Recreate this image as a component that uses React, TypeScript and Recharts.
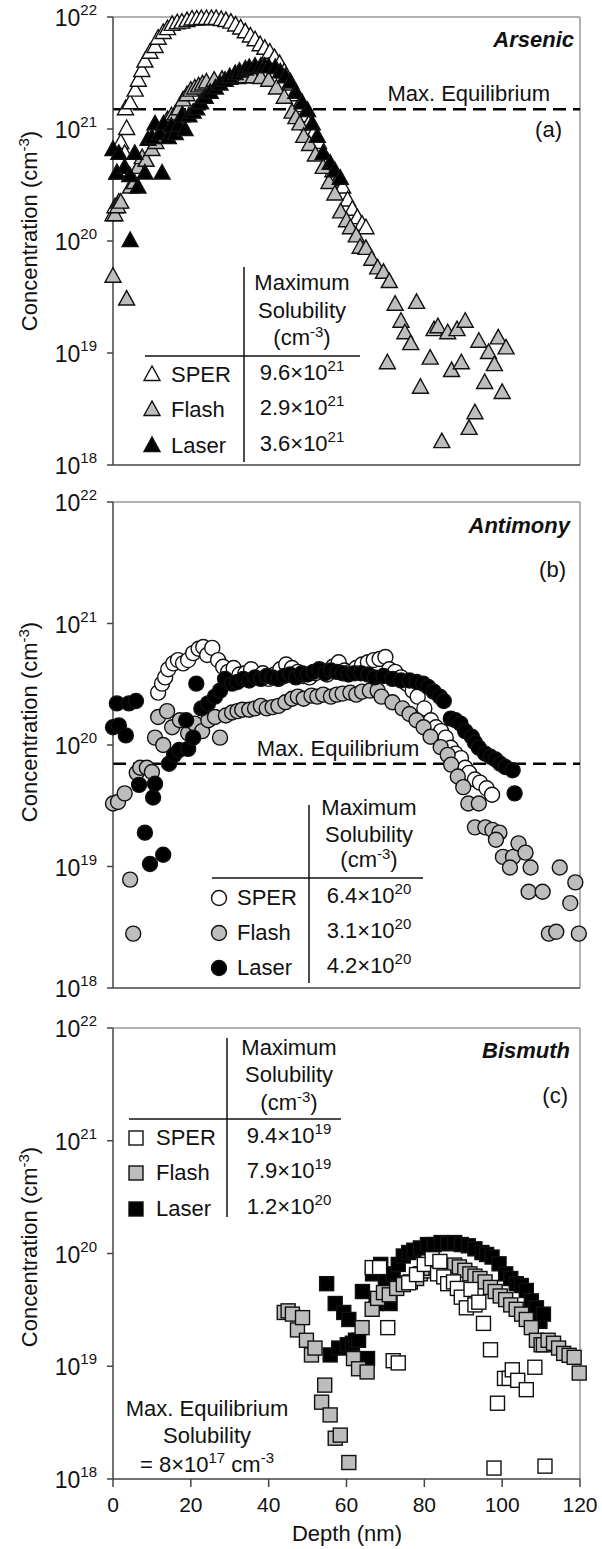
import React from "react";
import { ScatterChart, Scatter, XAxis, YAxis, ReferenceLine } from "recharts";

const FONT = "'Liberation Sans', Arial, Helvetica, sans-serif";

const DEPTH_TICKS = [0, 20, 40, 60, 80, 100, 120];
const CONC_TICKS = [1e18, 1e19, 1e20, 1e21, 1e22];
const SERIES_NAMES = ["SPER", "Flash", "Laser"];

// [depth (nm), concentration (cm-3)]
const AS_SPER = [
  [0, 1.7e20], [0.5, 2.0e20], [1, 4e20], [1.5, 2.2e20], [2, 7.5e20], [3, 6e20], [3.5, 1e21],
  [3.2, 1.5e21], [4.4, 1.7e21], [5.7, 2.2e21], [6.5, 2.7e21], [7.4, 3.3e21], [8.2, 4e21],
  [9.5, 4.8e21], [10.8, 5.4e21], [11.6, 6.4e21], [12.9, 7.2e21], [14, 7.8e21], [15.2, 8.5e21],
  [16.5, 8.8e21], [17.7, 8.9e21], [19, 9.2e21], [20.3, 9.5e21], [21.5, 9.5e21], [22.7, 9.6e21],
  [24, 9.6e21], [25.3, 9.6e21], [26.5, 9.6e21], [27.8, 9.4e21], [29, 9.2e21], [30.3, 8.9e21],
  [31.5, 8.4e21], [32.8, 7.9e21], [34, 7.3e21], [35.3, 6.7e21], [36.5, 6.2e21], [37.8, 5.6e21],
  [39, 5.2e21], [40.3, 4.8e21], [41.5, 4.3e21], [42.8, 3.8e21], [44, 3.2e21], [45.3, 2.5e21],
  [46.5, 2.0e21], [47.8, 1.6e21], [49, 1.3e21], [50.3, 1.1e21], [51.5, 9e20], [52.8, 7.5e20],
  [54, 6e20], [55.3, 5e20], [56.5, 4.2e20], [57.8, 3.5e20], [59, 3e20], [60.3, 2.3e20],
  [61.5, 1.9e20], [62.8, 1.6e20], [64, 1.4e20], [65, 1.3e20],
];
const AS_FLASH = [
  [0, 4.8e19], [0.5, 1.7e20], [1.2, 2.0e20], [2, 2.2e20], [3.5, 3.0e19], [4.5, 3.0e20],
  [5.5, 3.3e20], [6.5, 4.5e20], [7.5, 5.5e20], [8.5, 5.2e20], [10, 6.5e20], [11, 7.5e20],
  [12, 8.5e20], [13, 9e20], [14, 1.2e21], [15, 1.3e21], [16, 1.35e21], [17, 1.5e21],
  [18, 1.8e21], [19, 2.0e21], [20, 2.2e21], [21, 2.3e21], [22, 2.4e21], [23, 2.5e21],
  [24, 2.6e21], [26, 2.7e21], [28, 2.75e21], [30, 2.8e21], [32, 2.85e21], [34, 2.9e21],
  [36, 2.9e21], [38, 2.85e21], [40, 2.7e21], [42, 2.3e21], [44, 1.9e21], [46, 1.4e21],
  [47, 1.25e21], [48, 1.1e21], [49, 8.5e20], [50.5, 7.2e20], [52, 5.8e20], [54, 4.5e20],
  [55.5, 3.3e20], [57, 2.6e20], [58.5, 1.8e20], [60, 1.5e20], [61, 1.3e20], [62.5, 1.1e20],
  [63.5, 8.7e19], [65, 8.5e19], [66.5, 6.8e19], [68, 5.7e19], [69.5, 5.2e19], [71, 4.3e19],
  [72.5, 2.7e19], [74, 1.9e19], [75, 1.5e19], [76.5, 1.2e19], [78, 2.8e19], [70.5, 8.1e18],
  [79, 4.9e18], [81.5, 8.9e18], [82.5, 1.6e19], [83.5, 1.7e19], [84.5, 1.6e18], [86, 1.5e19],
  [87, 6.9e18], [88.4, 1.6e19], [89.5, 8.1e18], [90.5, 1.9e19], [91.5, 2.1e18], [93, 2.9e18],
  [94, 1.26e19], [95.5, 5.4e18], [96.5, 1.0e19], [98, 7.8e18], [99, 1.35e19], [100, 4.4e18],
  [101, 1.1e19],
];
const AS_LASER = [
  [0, 6.5e20], [1, 4e20], [1.5, 6e20], [3, 4.5e20], [4.3, 3.8e20], [4.4, 1e20], [5.6, 6e20],
  [6.4, 3e20], [8.2, 4e20], [9, 8e20], [10, 8.3e20], [10.8, 1.1e21], [12.6, 4e20], [12, 9e20],
  [13, 1.1e21], [14.2, 8.3e20], [15, 1.05e21], [16, 9e20], [16.8, 1.07e21], [17.7, 1.3e21],
  [18.5, 9.8e20], [19.5, 1.3e21], [20.6, 1.4e21], [21.5, 1.5e21], [22.5, 1.7e21], [23.7, 1.9e21],
  [25, 2.1e21], [26.3, 2.3e21], [27.5, 2.5e21], [28.8, 2.7e21], [30, 2.9e21], [31.4, 3.1e21],
  [32.5, 3.25e21], [34, 3.4e21], [35, 3.5e21], [36.5, 3.6e21], [38, 3.6e21], [39, 3.6e21],
  [40, 3.55e21], [41.7, 3.5e21], [43, 3.2e21], [44.3, 2.9e21], [45.6, 2.6e21], [47, 2.1e21],
  [48.6, 1.7e21], [50, 1.45e21], [51.2, 1.1e21], [52.5, 8.5e20], [54, 6e20], [55.8, 4.9e20],
  [57, 4.2e20], [58.4, 3.6e20],
];

const SB_SPER = [
  [11.6, 2.7e20], [12.6, 3.2e20], [13.4, 3.6e20], [14.2, 4.2e20], [15.5, 4.7e20], [16.7, 5e20],
  [18, 4.7e20], [19.3, 5e20], [20.6, 5.7e20], [22, 6.2e20], [23.2, 6.4e20], [24.2, 5.5e20],
  [25.5, 6.3e20], [27, 5e20], [28.3, 4.4e20], [29.6, 4e20], [31, 4.3e20], [32.5, 3.8e20],
  [34, 3.9e20], [35.5, 4.2e20], [37, 3.6e20], [38.5, 3.9e20], [40, 3.5e20], [41.5, 3.8e20],
  [43, 4.2e20], [44.5, 4.6e20], [46, 4.3e20], [47.5, 4.0e20], [49, 3.7e20], [50.5, 3.6e20],
  [52, 3.9e20], [53.5, 4.1e20], [55, 3.8e20], [56.5, 4.4e20], [58, 4.8e20], [59.5, 4.1e20],
  [61, 4.0e20], [62.5, 4.3e20], [64, 4.6e20], [65.5, 4.8e20], [67, 5.0e20], [68.5, 5.1e20],
  [70, 5.3e20], [71, 4.2e20], [72.5, 4e20], [74, 3.6e20], [75.5, 3.2e20], [77, 2.8e20],
  [78.3, 2.5e20], [80, 2e20], [81.7, 1.6e20], [83, 1.4e20], [84.3, 1.3e20], [85.5, 1.15e20],
  [86.8, 9.5e19], [88, 8.5e19], [89.4, 7.8e19], [90.5, 6.5e19], [91.5, 5.9e19], [93, 5.2e19],
  [94.3, 4.9e19], [96, 4.4e19], [97.4, 3.9e19],
];
const SB_FLASH = [
  [0, 3.3e19], [1.3, 3.4e19], [3, 4e19], [4.4, 7.8e18], [5.2, 2.8e18], [6.1, 5.9e19], [7, 6.5e19],
  [8.7, 6.5e19], [10, 6e19], [10.8, 1.15e20], [11.6, 1.7e20], [12.9, 1e20], [13.9, 1.9e20],
  [15.2, 1.4e20], [17.2, 1.6e20], [19.3, 1.25e20], [21, 1.5e20], [22.9, 1.3e20], [24.5, 1.6e20],
  [26.2, 1.7e20], [27.5, 1.15e20], [29, 1.75e20], [30.6, 1.85e20], [32, 1.9e20], [33.2, 1.95e20],
  [35, 1.95e20], [36.5, 2e20], [38, 2.1e20], [39.5, 2e20], [41, 2.05e20], [42.5, 2.1e20],
  [44.3, 2.25e20], [46, 2.4e20], [47.5, 2.5e20], [49, 2.4e20], [51, 2.55e20], [52.5, 2.5e20],
  [54, 2.6e20], [56, 2.5e20], [57.5, 2.6e20], [59, 2.65e20], [61, 2.7e20], [62.5, 2.6e20],
  [64, 2.75e20], [66, 2.8e20], [68, 2.8e20], [69, 2.5e20], [71.8, 2.25e20], [74.4, 2e20],
  [76.2, 1.8e20], [78, 1.6e20], [79.8, 1.4e20], [81.6, 1.17e20], [84.2, 9.6e19], [86, 8.3e19],
  [86.9, 6.9e19], [88.6, 5.5e19], [90, 4.5e19], [91.3, 3.3e19], [94, 3.3e19], [93, 2.1e19],
  [95.7, 2.1e19], [97.5, 2e19], [99.3, 1.9e19], [98.4, 1.66e19], [100.2, 1.2e19], [102.8, 1.2e19],
  [104.2, 1.55e19], [106, 1.3e19], [102, 9.8e18], [107.3, 9.8e18], [106.8, 6.2e18], [110.4, 6.2e18],
  [114.8, 9.8e18], [118.8, 7.4e18], [117.5, 5e18], [112, 2.8e18], [113.9, 2.9e18], [119.7, 2.8e18],
];
const SB_LASER = [
  [0, 1.4e20], [1, 2.2e20], [1.5, 1.45e20], [3.3, 1.2e20], [4.1, 2.2e20], [5.9, 2.3e20],
  [6.7, 4.7e19], [8.2, 1.9e19], [9.5, 1.05e19], [10.3, 3.7e19], [10.8, 4.8e19], [12.9, 1.25e19],
  [14.4, 7e19], [15.7, 8.3e19], [17, 9.1e19], [18.8, 1.6e20], [19.3, 9.3e19], [20.6, 1.15e20],
  [21.4, 3.2e20], [22.7, 2e20], [24.4, 2.2e20], [26.2, 2.5e20], [27.5, 2.8e20], [28.8, 3.5e20],
  [30.6, 3.2e20], [32, 3.3e20], [33.5, 3.5e20], [35, 3.4e20], [36.5, 3.6e20], [38, 3.5e20],
  [39.5, 3.7e20], [41, 3.6e20], [42.5, 3.5e20], [44, 3.7e20], [45.5, 3.8e20], [47, 3.6e20],
  [48.5, 3.9e20], [50, 3.8e20], [51.5, 4.0e20], [53, 4.2e20], [54.5, 3.9e20], [56, 4.1e20],
  [57.5, 4.0e20], [59, 3.9e20], [60.5, 3.8e20], [62, 3.9e20], [63.7, 3.9e20], [65.5, 3.8e20],
  [67.2, 3.6e20], [69.5, 3.7e20], [71.8, 3.5e20], [74, 3.4e20], [76.2, 3.4e20], [78, 3.3e20],
  [79.7, 3.2e20], [81, 3e20], [82.4, 2.75e20], [84, 2.5e20], [85, 2.3e20], [86.8, 1.65e20],
  [88, 1.6e20], [89.3, 1.5e20], [90.5, 1.3e20], [92.2, 1.17e20], [93, 1.05e20], [94, 9.5e19],
  [95.6, 8.5e19], [97, 8e19], [98.3, 7.6e19], [99.5, 7e19], [100.8, 6.6e19], [102.7, 6.2e19],
  [103.2, 4e19],
];

const BI_SPER = [
  [66.6, 7.5e19], [68.5, 7.5e19], [70.6, 2.2e19], [72, 1.12e19], [73.3, 1.07e19], [76, 5.5e19],
  [78, 6.5e19], [80, 8e19], [82, 9e19], [83.4, 6.6e19], [84, 8.5e19], [85, 6.2e19], [86, 5.4e19],
  [87.5, 5.6e19], [88.5, 4.9e19], [89.5, 4.1e19], [90.8, 3.3e19], [92, 4.8e19], [93, 3.5e19],
  [94, 3.7e19], [95.2, 2.4e19], [97, 1.4e19], [98.8, 4.7e18], [100.6, 7.8e18], [101.8, 7.8e18],
  [102.6, 9.3e18], [104, 7.5e18], [106.2, 6.2e18], [108.4, 9.8e18], [97.9, 1.25e18], [111, 1.3e18],
];
const BI_FLASH = [
  [44, 3e19], [45, 3.1e19], [46.1, 2.9e19], [47.4, 2.1e19], [48.7, 2.7e19], [49.7, 1.7e19],
  [51, 1.26e19], [51.9, 1.45e19], [53.6, 4.8e18], [54.4, 6.8e18], [55.8, 3.7e18], [57.1, 2.3e18],
  [58.4, 2.45e18], [60.6, 1.4e18], [61.8, 1.17e19], [63.1, 9.5e18], [64, 2.2e19], [65.3, 8.9e18],
  [66.6, 3.2e19], [68, 4e19], [69.5, 4.5e19], [71, 4.3e19], [72.9, 4.9e19], [74.6, 5.3e19],
  [76.4, 5.6e19], [78, 6e19], [79, 6.6e19], [80.5, 7e19], [81.7, 7.4e19], [83, 7.5e19],
  [84.3, 7.6e19], [86, 7.8e19], [87.8, 7.9e19], [89, 7.6e19], [90.4, 7.1e19], [91.7, 6.6e19],
  [93, 6.3e19], [94.3, 6e19], [95.6, 5.6e19], [97, 5e19], [98.2, 4.6e19], [99.5, 4.2e19],
  [100.9, 3.9e19], [102.2, 3.5e19], [103.6, 3.2e19], [105, 2.9e19], [106.2, 2.6e19],
  [107.5, 2.2e19], [108.8, 1.7e19], [110, 1.55e19], [110.6, 1.55e19], [111.8, 1.7e19],
  [113.2, 1.6e19], [114.5, 1.45e19], [115.8, 1.3e19], [117.2, 1.25e19], [118.5, 1.2e19],
  [119.8, 8.7e18],
];
const BI_LASER = [
  [54.9, 5.4e19], [55.8, 1.26e19], [57.1, 3.6e19], [58, 1.45e19], [59.3, 3e19], [60.2, 1.55e19],
  [60.6, 2.6e19], [61.5, 1.6e19], [62.3, 1.7e19], [63.1, 1.7e19], [64.1, 4.6e19], [65.4, 1.17e19],
  [66.7, 6.6e19], [67.6, 3.6e19], [68.8, 8e19], [70, 6e19], [71.2, 3.6e19], [72, 6.6e19],
  [73.3, 8e19], [74.6, 9.5e19], [76, 1.02e20], [77.3, 1.07e20], [79, 1.12e20], [80.8, 1.2e20],
  [82.5, 1.2e20], [84.3, 1.25e20], [86, 1.22e20], [87.8, 1.25e20], [89.5, 1.2e20], [91.3, 1.17e20],
  [93, 1.1e20], [94.8, 1.02e20], [96, 9.8e19], [97.4, 9.3e19], [99.2, 8.1e19], [100.9, 6.6e19],
  [102.2, 6e19], [103.6, 5.4e19], [104.9, 5.2e19], [106.2, 4.7e19], [107.5, 3.8e19],
  [108.8, 3.3e19], [109.7, 2.5e19], [110.6, 2.9e19],
];

// max solubility table values: mantissa, exponent
const AS_MAX = [["9.6", 21], ["2.9", 21], ["3.6", 21]];
const SB_MAX = [["6.4", 20], ["3.1", 20], ["4.2", 20]];
const BI_MAX = [["9.4", 19], ["7.9", 19], ["1.2", 20]];

const AS_EQ = 1.5e21;
const SB_EQ = 7e19;

const FILLS = ["#ffffff", "#bdbdbd", "#000000"];

const toPts = (arr: number[][]) => arr.map(([depth, conc]) => ({ depth, conc }));

const tri = (cx: number, cy: number, fill: string) => (
  <polygon
    points={`${cx},${cy - 9} ${cx - 8},${cy + 5.5} ${cx + 8},${cy + 5.5}`}
    fill={fill}
    stroke="#111"
    strokeWidth={1.4}
  />
);
const circ = (cx: number, cy: number, fill: string) => (
  <circle cx={cx} cy={cy} r={7.5} fill={fill} stroke="#111" strokeWidth={1.4} />
);
const sq = (cx: number, cy: number, fill: string) => (
  <rect x={cx - 7} y={cy - 7} width={14} height={14} fill={fill} stroke="#111" strokeWidth={1.4} />
);

const PowerTick = (props: any) => {
  const { x, y, payload } = props;
  const exp = Math.round(Math.log10(payload.value));
  return (
    <text x={x - 8} y={y + 9} textAnchor="end" fontSize={23} fill="#111" fontFamily={FONT}>
      10
      <tspan dy={-11} fontSize={15}>
        {exp}
      </tspan>
    </text>
  );
};

function Panel({ top, height, marginTop, xAxisHeight, showLabels, series, eq }: any) {
  return (
    <div style={{ position: "absolute", left: 0, top }}>
      <ScatterChart width={602} height={height} margin={{ top: marginTop, right: 22, bottom: 0, left: 0 }}>
        <XAxis
          type="number"
          dataKey="depth"
          domain={[0, 120]}
          ticks={DEPTH_TICKS}
          interval={0}
          height={xAxisHeight}
          tickSize={8}
          tickMargin={10}
          tick={showLabels ? { fontSize: 21, fill: "#111", fontFamily: FONT } : false}
          axisLine={{ stroke: "#444", strokeWidth: 1.5 }}
          tickLine={{ stroke: "#444", strokeWidth: 1.5 }}
        />
        <YAxis
          type="number"
          dataKey="conc"
          scale="log"
          domain={[1e18, 1e22]}
          ticks={CONC_TICKS}
          interval={0}
          width={113}
          tickSize={6}
          tick={<PowerTick />}
          axisLine={{ stroke: "#444", strokeWidth: 1.5 }}
          tickLine={{ stroke: "#444", strokeWidth: 1.5 }}
        />
        <ReferenceLine x={120} stroke="#999" strokeWidth={1.5} />
        <ReferenceLine y={1e22} stroke="#999" strokeWidth={1.5} />
        {eq && <ReferenceLine y={eq} stroke="#000" strokeWidth={2.5} strokeDasharray="13 7" />}
        {series.map((s: any) => (
          <Scatter
            key={s.name}
            name={s.name}
            data={toPts(s.data)}
            isAnimationActive={false}
            shape={(p: any) => s.mark(p.cx, p.cy, s.fill)}
          />
        ))}
      </ScatterChart>
    </div>
  );
}

function Sup({ base, sup, ...rest }: any) {
  return (
    <text {...rest}>
      {base}
      <tspan dy={-9} fontSize={15}>
        {sup}
      </tspan>
    </text>
  );
}

function CmLabel({ x, y, ...rest }: any) {
  return (
    <text x={x} y={y} {...rest}>
      (cm
      <tspan dy={-8} fontSize={15}>
        -3
      </tspan>
      <tspan dy={8}>)</tspan>
    </text>
  );
}

function SolTable({ vx, vTop, vBottom, hy, hx1, hx2, cx, heads, rows, mx, lx, vals, mark }: any) {
  return (
    <g fontSize={22} fill="#111">
      <line x1={vx} y1={vTop} x2={vx} y2={vBottom} stroke="#111" strokeWidth={1.5} />
      <line x1={hx1} y1={hy} x2={hx2} y2={hy} stroke="#111" strokeWidth={1.5} />
      <text x={cx} y={heads[0]} textAnchor="middle">Maximum</text>
      <text x={cx} y={heads[1]} textAnchor="middle">Solubility</text>
      <CmLabel x={cx} y={heads[2]} textAnchor="middle" />
      {SERIES_NAMES.map((n, i) => (
        <g key={n}>
          {mark(mx, rows[i] - 7, FILLS[i])}
          <text x={lx} y={rows[i]}>{n}</text>
          <Sup x={cx} y={rows[i] - 2} textAnchor="middle" base={`${vals[i][0]}×10`} sup={vals[i][1]} />
        </g>
      ))}
    </g>
  );
}

function YTitle({ cy }: any) {
  return (
    <text transform={`translate(37, ${cy}) rotate(-90)`} textAnchor="middle" fontSize={22} fill="#111">
      Concentration (cm
      <tspan dy={-8} fontSize={15}>
        -3
      </tspan>
      <tspan dy={8}>)</tspan>
    </text>
  );
}

export default function App() {
  const mk = (a: number[][], b: number[][], c: number[][], mark: any, order = [0, 1, 2]) => {
    const all = [a, b, c].map((d, i) => ({ name: SERIES_NAMES[i], data: d, fill: FILLS[i], mark }));
    return order.map((i) => all[i]);
  };
  return (
    <div style={{ position: "absolute", left: 0, top: 0, width: 602, height: 1549, background: "#fff" }}>
      <Panel top={0} height={490} marginTop={17} xAxisHeight={25} showLabels={false} eq={AS_EQ}
        series={mk(AS_SPER, AS_FLASH, AS_LASER, tri)} />
      <Panel top={470} height={545} marginTop={32} xAxisHeight={27} showLabels={false} eq={SB_EQ}
        series={mk(SB_SPER, SB_FLASH, SB_LASER, circ)} />
      <Panel top={995} height={554} marginTop={33} xAxisHeight={70} showLabels={true} eq={null}
        series={mk(BI_SPER, BI_FLASH, BI_LASER, sq, [2, 1, 0])} />

      <svg width={602} height={1549} style={{ position: "absolute", left: 0, top: 0, pointerEvents: "none" }}
        fontFamily={FONT}>
        <g fontSize={22} fill="#111">
          <YTitle cy={231} />
          <YTitle cy={722} />
          <YTitle cy={1247} />

          <text x={574} y={47} textAnchor="end" fontWeight="bold" fontStyle="italic">Arsenic</text>
          <text x={550} y={101} textAnchor="end">Max. Equilibrium</text>
          <text x={562} y={137} textAnchor="end">(a)</text>

          <text x={570} y={533} textAnchor="end" fontWeight="bold" fontStyle="italic">Antimony</text>
          <text x={566} y={577} textAnchor="end">(b)</text>
          <text x={338} y={756} textAnchor="middle">Max. Equilibrium</text>

          <text x={570} y={1058} textAnchor="end" fontWeight="bold" fontStyle="italic">Bismuth</text>
          <text x={568} y={1103} textAnchor="end">(c)</text>
          <text x={207} y={1416} textAnchor="middle">Max. Equilibrium</text>
          <text x={207} y={1443} textAnchor="middle">Solubility</text>
          <text x={207} y={1472} textAnchor="middle">
            = 8×10
            <tspan dy={-9} fontSize={15}>17</tspan>
            <tspan dy={9}> cm</tspan>
            <tspan dy={-9} fontSize={15}>-3</tspan>
          </text>

          <text x={347} y={1541} textAnchor="middle">Depth (nm)</text>
        </g>

        <SolTable vx={244} vTop={267} vBottom={462} hy={356} hx1={145} hx2={360} cx={302}
          heads={[290, 318, 345]} rows={[382, 417, 453]} mx={152} lx={171} vals={AS_MAX} mark={tri} />
        <SolTable vx={309} vTop={805} vBottom={983} hy={878} hx1={212} hx2={423} cx={369}
          heads={[815, 842, 867]} rows={[905, 940, 975]} mx={219} lx={237} vals={SB_MAX} mark={circ} />
        <SolTable vx={227} vTop={1038} vBottom={1217} hy={1119} hx1={129} hx2={341} cx={289}
          heads={[1055, 1082, 1110]} rows={[1145, 1180, 1216]} mx={136} lx={156} vals={BI_MAX} mark={sq} />
      </svg>
    </div>
  );
}
